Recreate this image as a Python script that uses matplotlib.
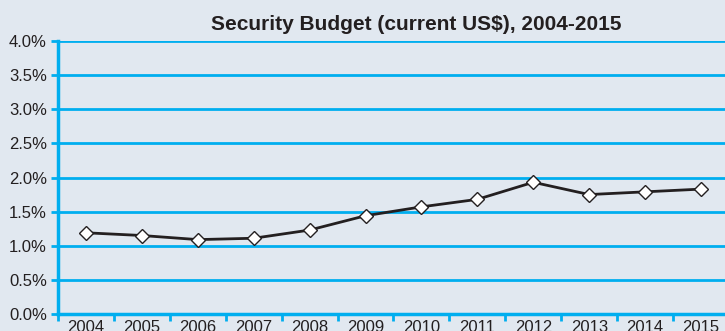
import numpy as np
import matplotlib.pyplot as plt

years = ['2004', '2005', '2006', '2007', '2008', '2009', '2010', '2011', '2012', '2013', '2014', '2015']
budget = [1.19, 1.15, 1.09, 1.11, 1.23, 1.44, 1.57, 1.68, 1.93, 1.75, 1.79, 1.83]
yticks = [0.0, 0.5, 1.0, 1.5, 2.0, 2.5, 3.0, 3.5, 4.0]

bg = '#e1e8f0'
blue = '#00aeef'

plt.rcParams['font.family'] = ['Liberation Sans', 'DejaVu Sans']

fig = plt.figure(figsize=(7.25, 3.31), dpi=100, facecolor=bg)
ax = fig.add_axes([58/725, 1 - 314/331, 671/725, 273/331])
ax.set_facecolor(bg)

x = np.arange(len(years))
ax.plot(x, budget, color='#231f20', lw=2, marker='D', ms=7.5,
        mfc='white', mec='#231f20', mew=1, zorder=3)

ax.set_xlim(-0.5, len(years) - 0.5)
ax.set_ylim(0, 4.0)
ax.set_yticks(yticks)
ax.set_yticklabels(['%.1f%%' % v for v in yticks], fontsize=12, color='#231f20')
ax.yaxis.grid(True, color=blue, lw=2)
ax.set_axisbelow(True)

ax.set_xticks(x)
ax.set_xticklabels(years, fontsize=12, color='#231f20')
ax.set_xticks(np.arange(-0.5, len(years)), minor=True)
ax.tick_params(axis='x', which='major', length=0, pad=4)
ax.tick_params(axis='x', which='minor', length=5, width=2, color=blue)
ax.tick_params(axis='y', length=5, width=2, color=blue, pad=3)

for s in ['top', 'right']:
    ax.spines[s].set_visible(False)
for s in ['left', 'bottom']:
    ax.spines[s].set_color(blue)
    ax.spines[s].set_linewidth(2.5)

fig.text(416/725, 1 - 24/331, 'Security Budget (current US$), 2004-2015',
         ha='center', va='center', fontsize=15, fontweight='bold', color='#231f20')

fig.savefig('out.png', dpi=100, facecolor=bg)
